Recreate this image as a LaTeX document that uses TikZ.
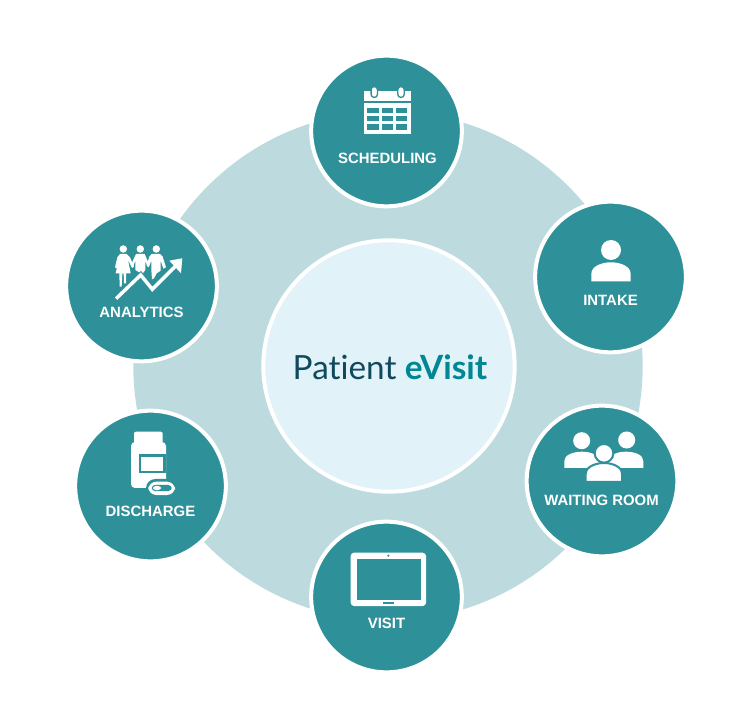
\documentclass[tikz,border=0pt]{standalone}
\usepackage{fontspec}
\usepackage{xcolor}
\setmainfont{Liberation Sans}
\newfontfamily\latofont[Ligatures=NoCommon]{Lato}
\definecolor{tealdark}{HTML}{2E9099}
\definecolor{discblue}{HTML}{BDDBDF}
\definecolor{hubblue}{HTML}{E1F2F8}
\definecolor{titledark}{HTML}{10495C}
\definecolor{titleteal}{HTML}{008793}
\tikzset{
  stage/.style={circle,draw=white,line width=3pt,fill=tealdark,minimum size=113pt,inner sep=0pt},
  stagelabel/.style={text=white,font=\fontsize{11.2pt}{13pt}\bfseries,inner sep=0pt},
  icon/.style={fill=white,draw=none},
  hole/.style={fill=tealdark,draw=none}
}
\begin{document}
\begin{tikzpicture}[x=.75pt,y=-.75pt]
\useasboundingbox (0,0) rectangle (732,723);
\def\bigdisc{(388,366) circle (191pt)}
  \fill[discblue] \bigdisc;
  \node[circle,draw=white,line width=3pt,fill=hubblue,minimum size=188.5pt,inner sep=0pt] (hub) at (389,366) {};
  \node[font=\fontsize{25pt}{29pt}\latofont] (title) at (390,367) {\textcolor{titledark}{Patient} \textcolor{titleteal}{\bfseries eVisit}};
  \node[stage] (scheduling) at (386.5,131) {};
  \node[stage] (intake) at (610.5,277) {};
  \node[stage] (waiting) at (602,481) {};
  \node[stage] (visit) at (386.5,597) {};
  \node[stage] (discharge) at (150.5,486) {};
  \node[stage] (analytics) at (141.5,286) {};
  \node[stagelabel] (schedulinglabel) at (387.5,158) {SCHEDULING};
  \node[stagelabel] (intakelabel) at (610.5,300) {INTAKE};
  \node[stagelabel] (waitinglabel) at (601.5,500) {WAITING ROOM};
  \node[stagelabel] (visitlabel) at (386.5,623) {VISIT};
  \node[stagelabel] (dischargelabel) at (150.5,511) {DISCHARGE};
  \node[stagelabel] (analyticslabel) at (141.5,312) {ANALYTICS};
  % calendar
  \fill[icon] (364,91) rectangle (411,101);
  \fill[icon] (364,103) rectangle (411,134);
  \foreach \xa/\xb in {367.3/379.3,382.3/393.3,396/407.3}
    \foreach \ya/\yb in {107.7/112.7,116/121,124.3/129.7}
      \fill[hole] (\xa,\ya) rectangle (\xb,\yb);
  \foreach \xa in {374.3,401}
    \draw[tealdark,line width=1pt,fill=white,rounded corners=2.4pt] (\xa-3.2,86.5) rectangle (\xa+3.2,97.5);
  % person
  \fill[icon] (611,250) circle (7.5pt);
  \fill[icon] (591.3,281.3) -- (591.3,274) .. controls (591.3,266) and (602,262.3) .. (611,262.3) .. controls (620,262.3) and (630.7,266) .. (630.7,274) -- (630.7,281.3) -- cycle;
  % group
  \fill[icon] (581.7,440.7) circle (6.4pt);
  \fill[icon] (626.7,440) circle (6.4pt);
  \fill[icon] (564.3,468) -- (564.3,461) .. controls (564.3,455) and (573,451.7) .. (582,451.7) .. controls (591,451.7) and (599,455) .. (600,461) -- (600,468) -- cycle;
  \fill[icon] (643.3,468) -- (643.3,461) .. controls (643.3,455) and (635,451.7) .. (626,451.7) .. controls (617,451.7) and (609,455) .. (608,461) -- (608,468) -- cycle;
  \draw[tealdark,line width=1.5pt,fill=white] (604,453.3) circle (7pt);
  \draw[tealdark,line width=1.5pt,fill=white] (585.7,482) -- (585.7,474) .. controls (585.7,466.5) and (596,463) .. (604,463) .. controls (612,463) and (622,466.5) .. (622,474) -- (622,482) -- cycle;
  % tablet
  \fill[icon,rounded corners=2.5pt] (350.7,552.7) rectangle (426,606);
  \fill[hole] (356.7,558.7) rectangle (420.7,600);
  \fill[hole] (388.3,555.7) circle (.9pt);
  \fill[hole] (382.7,602) rectangle (394.3,604);
  % bottle
  \fill[icon,rounded corners=1.5pt] (134,431.7) rectangle (162.7,443.5);
  \fill[icon,rounded corners=3pt] (131,442) rectangle (166,488);
  \fill[hole] (138.5,454.3) rectangle (166,473.3);
  \fill[icon] (141,456.7) rectangle (162.7,471);
  \fill[hole,rounded corners=7pt] (146,479) rectangle (177,497);
  \fill[icon,rounded corners=6pt] (148.3,481.7) rectangle (175,495);
  \fill[hole,rounded corners=2.5pt] (151.7,485) rectangle (171.7,491);
  \fill[icon,rounded corners=2pt] (153,486) rectangle (161,490);
  % people and arrow
  \foreach \xa in {123.3,140.3,156.3}
    \fill[icon] (\xa,249) circle (2.8pt);
  \begin{scope}[shift={(110,240)},x=.25pt,y=-.25pt]
    \fill[icon] (30,42) -- (50,42) -- (60,52) -- (72,80) -- (66,84) -- (54,60) -- (62,100) -- (48,100) -- (48,130) -- (42,130) -- (41,100) -- (37,100) -- (35,140) -- (29,140) -- (28,100) -- (17,100) -- (26,60) -- (20,85) -- (15,82) -- (22,52) -- cycle;
    \fill[icon] (78,42) -- (104,42) -- (118,75) -- (112,80) -- (106,62) -- (106,90) -- (96,103) -- (88,97) -- (76,90) -- (76,62) -- (70,78) -- (64,72) -- cycle;
    \fill[icon] (125,42) -- (150,42) -- (158,50) -- (168,82) -- (160,86) -- (152,62) -- (152,92) -- (140,100) -- (132,115) -- (126,118) -- (124,90) -- (124,62) -- (116,82) -- (110,76) -- (118,50) -- cycle;
  \end{scope}
  \draw[tealdark,line width=4.2pt] (116,298.7) -- (140.7,275) -- (152.3,289.3) -- (175,266.7);
  \draw[white,line width=2.6pt] (116,298.7) -- (140.7,275) -- (152.3,289.3) -- (175,266.7);
  \fill[icon] (169.3,260.7) -- (182.3,258.3) -- (181,273.3) -- cycle;
\end{tikzpicture}
\end{document}
